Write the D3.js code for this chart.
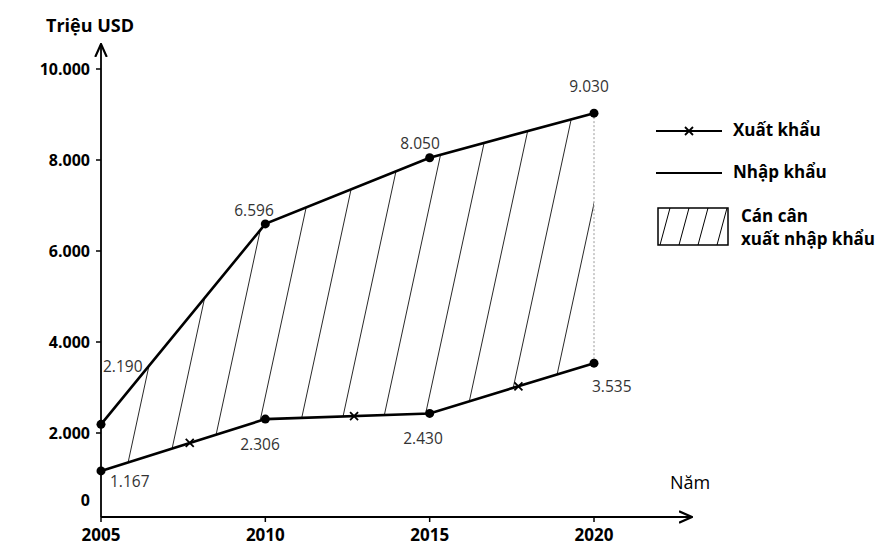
<!DOCTYPE html>
<html><head><meta charset="utf-8">
<script src="https://cdn.jsdelivr.net/npm/d3@7"></script>
<style>body{margin:0;background:#fff}text{font-family:"Open Sans",sans-serif}</style>
</head><body><svg id="c" width="883" height="557"></svg>
<script>
var years = [2005, 2010, 2015, 2020];
var importVals = [2190, 6596, 8050, 9030];
var exportVals = [1167, 2306, 2430, 3535];
var yTicks = [0, 2000, 4000, 6000, 8000, 10000];
var fmt = function(v){ return d3.format(",")(v).replace(/,/g, "."); };

var svg = d3.select("#c");
var x = d3.scaleLinear().domain([2005, 2020]).range([101, 594]);
var y = d3.scaleLinear().domain([0, 10000]).range([524, 69]);
var axisY = 517;

var defs = svg.append("defs");
defs.append("marker").attr("id","arr").attr("viewBox","0 0 10 10").attr("refX",9).attr("refY",5)
  .attr("markerWidth",8).attr("markerHeight",8).attr("orient","auto")
  .append("path").attr("d","M0,1L9,5L0,9").attr("fill","none").attr("stroke","#000").attr("stroke-width",1.5);

// hatch area
var area = d3.area().x(function(d,i){return x(years[i]);})
  .y0(function(d,i){return y(exportVals[i]);}).y1(function(d){return y(d);});
defs.append("clipPath").attr("id","clip").append("path").attr("d", area(importVals));
var hatch = svg.append("g").attr("clip-path","url(#clip)");
for (var s = -290; s < 700; s += 41) {
  hatch.append("line").attr("x1", s).attr("y1", 500).attr("x2", s + 95).attr("y2", 60)
    .attr("stroke","#111").attr("stroke-width",0.9);
}
svg.append("line").attr("x1",x(2020)).attr("x2",x(2020)).attr("y1",y(9030)).attr("y2",y(3535))
  .attr("stroke","#999").attr("stroke-dasharray","2,2");

// axes
svg.append("line").attr("x1",101).attr("y1",axisY).attr("x2",101).attr("y2",44)
  .attr("stroke","#000").attr("stroke-width",1.8).attr("marker-end","url(#arr)");
svg.append("line").attr("x1",101).attr("y1",axisY).attr("x2",692).attr("y2",axisY)
  .attr("stroke","#000").attr("stroke-width",1.8).attr("marker-end","url(#arr)");
yTicks.forEach(function(t){
  var yy = t === 0 ? 500 : y(t);
  if (t) svg.append("line").attr("x1",96).attr("x2",101).attr("y1",yy).attr("y2",yy).attr("stroke","#000").attr("stroke-width",1.5);
  svg.append("text").attr("x",90).attr("y",yy+6).attr("text-anchor","end")
    .attr("font-size",16).attr("font-weight",700).text(fmt(t));
});
years.forEach(function(yr){
  svg.append("line").attr("x1",x(yr)).attr("x2",x(yr)).attr("y1",axisY).attr("y2",axisY+5).attr("stroke","#000").attr("stroke-width",1.5);
  svg.append("text").attr("x",x(yr)).attr("y",541).attr("text-anchor","middle")
    .attr("font-size",17).attr("font-weight",700).text(yr);
});
svg.append("text").attr("x",46).attr("y",32).attr("font-size",18).attr("font-weight",700).text("Triệu USD");
svg.append("text").attr("x",670).attr("y",489).attr("font-size",18).text("Năm");

// lines
var line = d3.line().x(function(d,i){return x(years[i]);}).y(function(d){return y(d);});
[importVals, exportVals].forEach(function(vals){
  svg.append("path").attr("d", line(vals)).attr("fill","none").attr("stroke","#000").attr("stroke-width",2.6);
  svg.selectAll(null).data(vals).enter().append("circle")
    .attr("cx",function(d,i){return x(years[i]);}).attr("cy",function(d){return y(d);}).attr("r",4.5);
});
function cross(cx, cy){
  svg.append("path").attr("d","M"+(cx-4)+","+(cy-4)+"L"+(cx+4)+","+(cy+4)+"M"+(cx+4)+","+(cy-4)+"L"+(cx-4)+","+(cy+4))
    .attr("stroke","#000").attr("stroke-width",1.8);
}
for (var i = 0; i < 3; i++) {
  cross(x(years[i] + 2.7), y(exportVals[i] + (exportVals[i+1]-exportVals[i]) * 0.54));
}

// value labels
var lab = [
  [2190, 103, 372, "start"], [6596, 254, 216, "middle"], [8050, 420, 149, "middle"], [9030, 589, 92, "middle"],
  [1167, 110, 487, "start"], [2306, 260, 450, "middle"], [2430, 423, 444, "middle"], [3535, 592, 392, "start"]
];
lab.forEach(function(l){
  svg.append("text").attr("x",l[1]).attr("y",l[2]).attr("text-anchor",l[3])
    .attr("font-size",15.5).attr("fill","#333").text(fmt(l[0]));
});

// legend
svg.append("line").attr("x1",656).attr("x2",722).attr("y1",131).attr("y2",131).attr("stroke","#000").attr("stroke-width",1.8);
cross(689, 131);
svg.append("text").attr("x",733).attr("y",136).attr("font-size",17).attr("font-weight",700).text("Xuất khẩu");
svg.append("line").attr("x1",656).attr("x2",722).attr("y1",173).attr("y2",173).attr("stroke","#000").attr("stroke-width",1.8);
svg.append("text").attr("x",733).attr("y",178).attr("font-size",17).attr("font-weight",700).text("Nhập khẩu");
defs.append("clipPath").attr("id","lclip").append("rect").attr("x",658).attr("y",208).attr("width",70).attr("height",37);
var lg = svg.append("g").attr("clip-path","url(#lclip)");
for (var k = 0; k < 5; k++) {
  var bx = 660 + k * 19;
  lg.append("line").attr("x1",bx).attr("y1",245).attr("x2",bx+10).attr("y2",208).attr("stroke","#000").attr("stroke-width",1);
}
svg.append("rect").attr("x",658).attr("y",208).attr("width",70).attr("height",37).attr("fill","none").attr("stroke","#000").attr("stroke-width",1.5);
svg.append("text").attr("x",741).attr("y",222).attr("font-size",17).attr("font-weight",700).text("Cán cân");
svg.append("text").attr("x",741).attr("y",245).attr("font-size",17).attr("font-weight",700).text("xuất nhập khẩu");
</script></body></html>
